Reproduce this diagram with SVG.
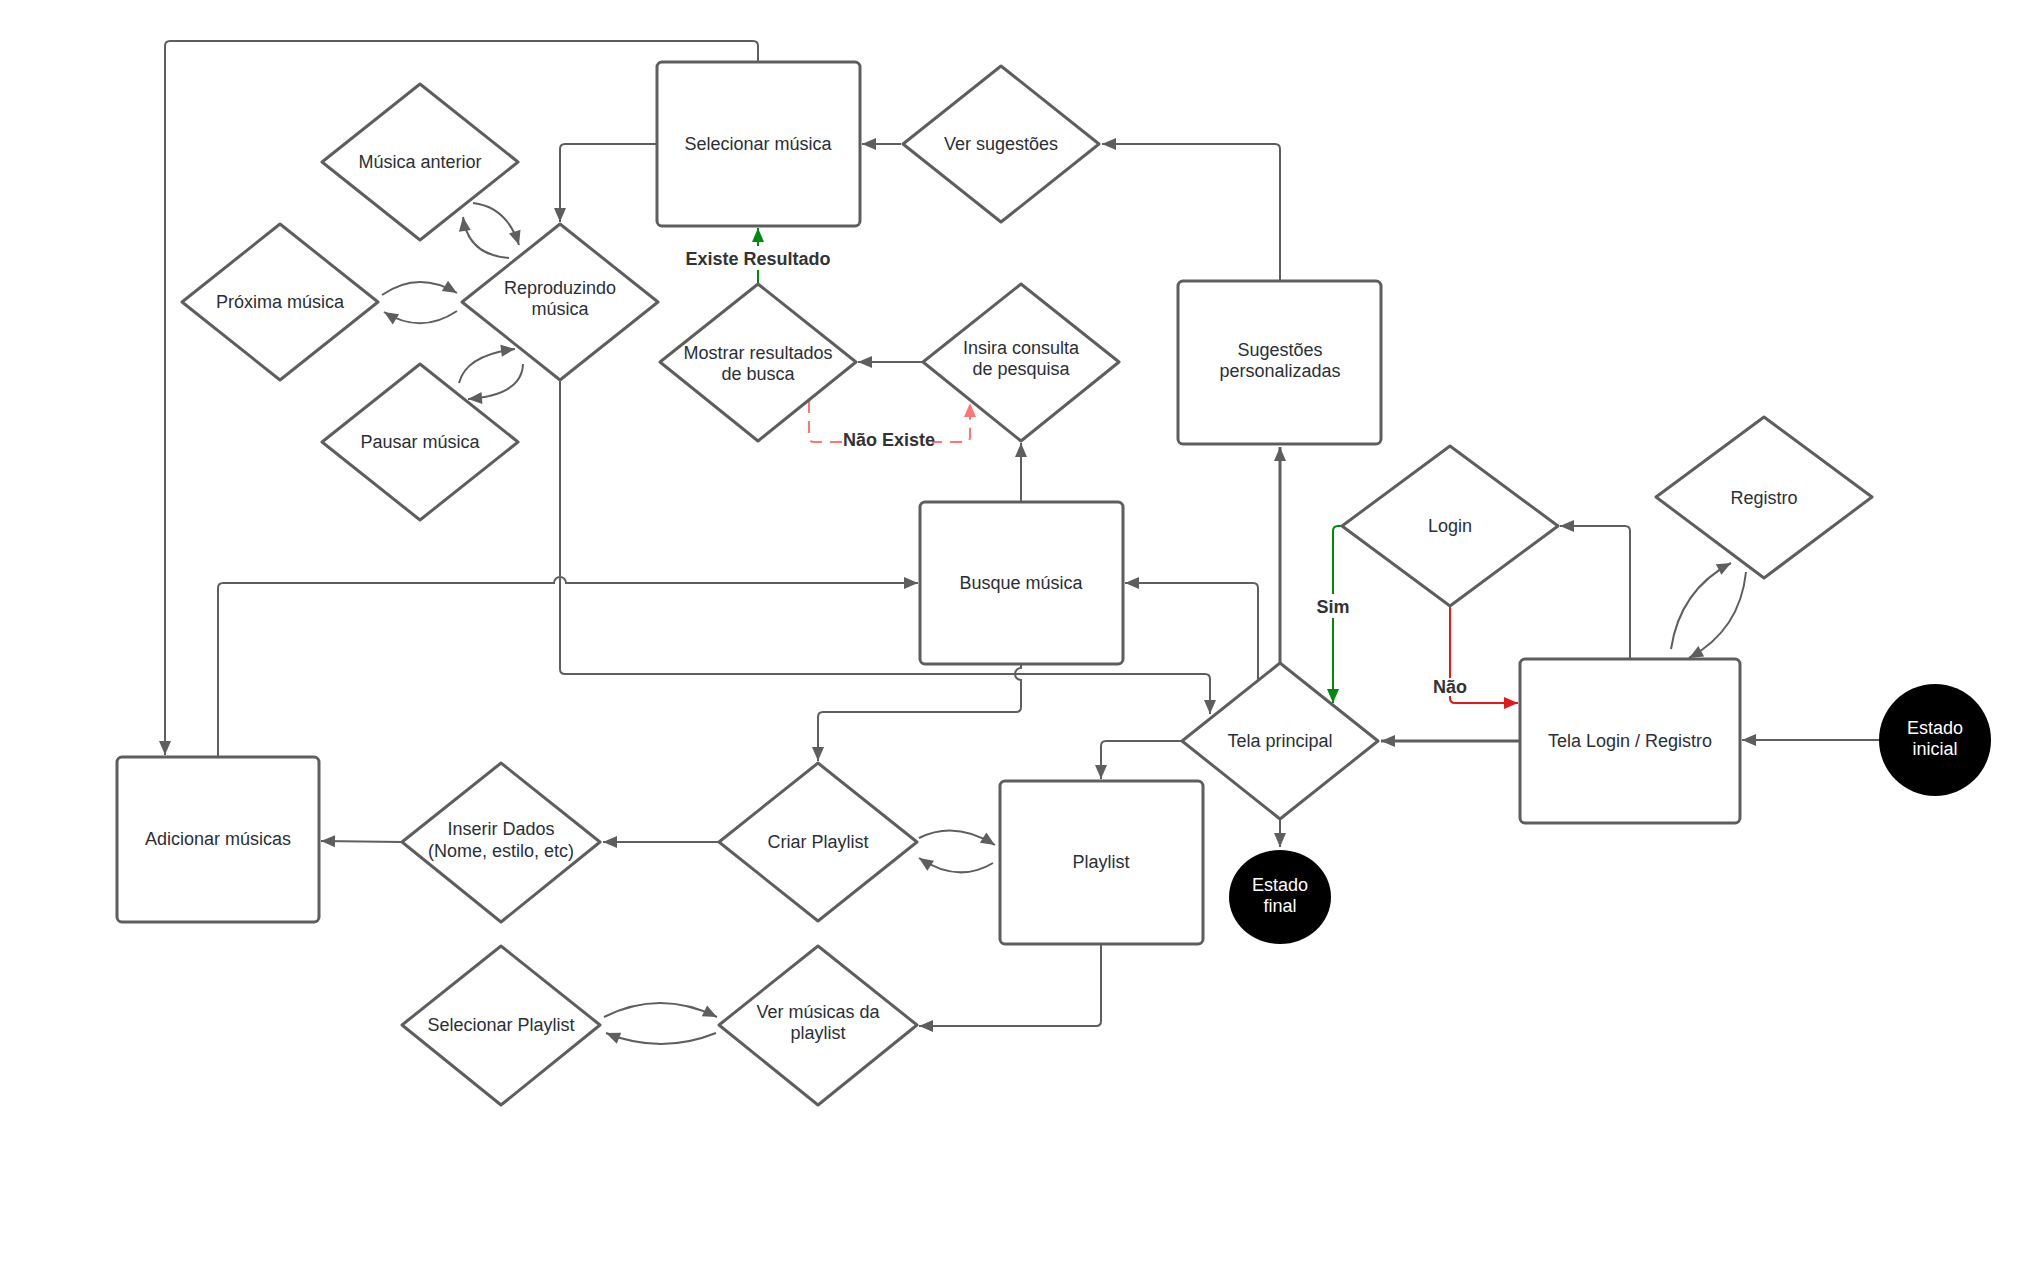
<svg xmlns="http://www.w3.org/2000/svg" width="2031" height="1261" viewBox="0 0 2031 1261">
<style>
.n{fill:#fff;stroke:#5e5e5e;stroke-width:3;stroke-linejoin:round}
.t{font-family:"Liberation Sans",Arial,sans-serif;font-size:18px;fill:#2b2f36;text-anchor:middle}
.w{fill:#fff}
.b{font-weight:bold;fill:#333}
.e{fill:#000;stroke:none}
.c{fill:none;stroke:#5e5e5e;stroke-width:2;marker-end:url(#ah)}
.c3{stroke-width:3}
.g{fill:none;stroke:#00890e;stroke-width:2;marker-end:url(#ag)}
.r{fill:none;stroke:#e21a1a;stroke-width:2;marker-end:url(#ar)}
.d{fill:none;stroke:#ff7575;stroke-width:2;stroke-dasharray:12 8;marker-end:url(#ad)}
</style>
<defs>
<marker id="ah" markerWidth="16" markerHeight="14" refX="15" refY="7" orient="auto" markerUnits="userSpaceOnUse"><path d="M1,1 L15,7 L1,13 z" fill="#5e5e5e"/></marker>
<marker id="ag" markerWidth="16" markerHeight="14" refX="15" refY="7" orient="auto" markerUnits="userSpaceOnUse"><path d="M1,1 L15,7 L1,13 z" fill="#00890e"/></marker>
<marker id="ar" markerWidth="16" markerHeight="14" refX="15" refY="7" orient="auto" markerUnits="userSpaceOnUse"><path d="M1,1 L15,7 L1,13 z" fill="#e21a1a"/></marker>
<marker id="ad" markerWidth="16" markerHeight="14" refX="15" refY="7" orient="auto" markerUnits="userSpaceOnUse"><path d="M1,1 L15,7 L1,13 z" fill="#ff7575"/></marker>
</defs>
<rect width="2031" height="1261" fill="#fff"/>

<g id="connectors">
<path class="c" d="M1879,740 L1742,740"/>
<path class="c c3" d="M1520,741 L1381,741"/>
<path class="c" d="M1630,659 L1630,531 Q1630,526 1625,526 L1560,526"/>
<path class="c" d="M1671,649 Q1680,590 1731,563"/>
<path class="c" d="M1746,572 Q1740,630 1689,658"/>
<path class="g" d="M1342,526 L1338,526 Q1333,526 1333,531 L1333,703"/>
<path class="r" d="M1450,606 L1450,698 Q1450,703 1455,703 L1518,703"/>
<path class="c c3" d="M1280,663 L1280,447"/>
<path class="c" d="M1280,281 L1280,149 Q1280,144 1275,144 L1102,144"/>
<path class="c" d="M901,144 L862,144"/>
<path class="c" d="M657,144 L565,144 Q560,144 560,149 L560,222"/>
<path class="c" d="M758,62 L758,46 Q758,41 753,41 L170,41 Q165,41 165,46 L165,755"/>
<path class="g" d="M758,284 L758,228"/>
<path class="c" d="M923,362 L858,362"/>
<path class="d" d="M809,401 L809,437 Q809,442 814,442 L965,442 Q970,442 970,437 L970,403"/>
<path class="c" d="M1021,502 L1021,443"/>
<path class="c" d="M1258,680 L1258,588 Q1258,583 1253,583 L1125,583"/>
<path class="c" d="M218,757 L218,588 Q218,583 223,583 L554,583 A6,6 0 0 1 566,583 L918,583"/>
<path class="c" d="M560,381 L560,669 Q560,674 565,674 L1205,674 Q1210,674 1210,679 L1210,714"/>
<path class="c" d="M1021,664 L1021,668 A6,6 0 0 0 1021,680 L1021,707 Q1021,712 1016,712 L823,712 Q818,712 818,717 L818,761"/>
<path class="c" d="M1181,741 L1106,741 Q1101,741 1101,746 L1101,779"/>
<path class="c" d="M1280,819 L1280,847"/>
<path class="c" d="M919,838 Q955,820 995,845"/>
<path class="c" d="M993,863 Q958,884 919,858"/>
<path class="c" d="M719,842 L603,842"/>
<path class="c" d="M402,842 L321,841"/>
<path class="c" d="M1101,944 L1101,1021 Q1101,1026 1096,1026 L919,1026"/>
<path class="c" d="M604,1017 Q660,989 717,1017"/>
<path class="c" d="M716,1033 Q661,1055 606,1033"/>
<path class="c" d="M473,203 Q507,207 519,245"/>
<path class="c" d="M509,258 Q468,255 463,217"/>
<path class="c" d="M382,295 Q418,270 457,293"/>
<path class="c" d="M457,311 Q421,335 384,312"/>
<path class="c" d="M459,383 Q466,355 515,349"/>
<path class="c" d="M523,364 Q522,395 468,399"/>
<rect class="w" x="1316" y="594" width="34" height="24"/>
<text class="t b" x="1333" y="613">Sim</text>
<rect class="w" x="1430" y="678" width="40" height="18"/>
<text class="t b" x="1450" y="693">Não</text>
<rect class="w" x="684" y="246" width="148" height="24"/>
<text class="t b" x="758" y="265">Existe Resultado</text>
<rect class="w" x="846" y="428" width="86" height="24"/>
<text class="t b" x="889" y="446">Não Existe</text>
</g>

<g id="selecionar-musica"><rect class="n" x="657" y="62" width="203" height="164" rx="5"/><text class="t" x="758" y="150">Selecionar música</text></g>
<g id="ver-sugestoes"><path class="n" d="M1001,66 L1099,144 L1001,222 L903,144 Z"/><text class="t" x="1001" y="150">Ver sugestões</text></g>
<g id="musica-anterior"><path class="n" d="M420,84 L518,162 L420,240 L322,162 Z"/><text class="t" x="420" y="168">Música anterior</text></g>
<g id="reproduzindo"><path class="n" d="M560,224 L658,302 L560,380 L462,302 Z"/><text class="t" x="560" y="294">Reproduzindo</text><text class="t" x="560" y="315">música</text></g>
<g id="proxima-musica"><path class="n" d="M280,224 L378,302 L280,380 L182,302 Z"/><text class="t" x="280" y="308">Próxima música</text></g>
<g id="pausar-musica"><path class="n" d="M420,364 L518,442 L420,520 L322,442 Z"/><text class="t" x="420" y="448">Pausar música</text></g>
<g id="mostrar-resultados"><path class="n" d="M758,284 L856,362 L758,441 L660,362 Z"/><text class="t" x="758" y="359">Mostrar resultados</text><text class="t" x="758" y="380">de busca</text></g>
<g id="insira-consulta"><path class="n" d="M1021,284 L1119,362 L1021,441 L923,362 Z"/><text class="t" x="1021" y="354">Insira consulta</text><text class="t" x="1021" y="375">de pesquisa</text></g>
<g id="sugestoes-personalizadas"><rect class="n" x="1178" y="281" width="203" height="163" rx="5"/><text class="t" x="1280" y="356">Sugestões</text><text class="t" x="1280" y="377">personalizadas</text></g>
<g id="busque-musica"><rect class="n" x="920" y="502" width="203" height="162" rx="5"/><text class="t" x="1021" y="589">Busque música</text></g>
<g id="tela-principal"><path class="n" d="M1280,663 L1378,741 L1280,819 L1182,741 Z"/><text class="t" x="1280" y="747">Tela principal</text></g>
<g id="login"><path class="n" d="M1450,446 L1558,526 L1450,606 L1342,526 Z"/><text class="t" x="1450" y="532">Login</text></g>
<g id="registro"><path class="n" d="M1764,417 L1872,497 L1764,578 L1656,497 Z"/><text class="t" x="1764" y="504">Registro</text></g>
<g id="tela-login-registro"><rect class="n" x="1520" y="659" width="220" height="164" rx="5"/><text class="t" x="1630" y="747">Tela Login / Registro</text></g>
<g id="estado-inicial"><ellipse class="e" cx="1935" cy="740" rx="56" ry="56"/><text class="t" x="1935" y="734" fill="#fff" style="fill:#fff">Estado</text><text class="t" x="1935" y="755" style="fill:#fff">inicial</text></g>
<g id="estado-final"><ellipse class="e" cx="1280" cy="897" rx="51" ry="47"/><text class="t" x="1280" y="891" style="fill:#fff">Estado</text><text class="t" x="1280" y="912" style="fill:#fff">final</text></g>
<g id="playlist"><rect class="n" x="1000" y="781" width="203" height="163" rx="5"/><text class="t" x="1101" y="868">Playlist</text></g>
<g id="criar-playlist"><path class="n" d="M818,763 L917,842 L818,921 L719,842 Z"/><text class="t" x="818" y="848">Criar Playlist</text></g>
<g id="inserir-dados"><path class="n" d="M501,763 L600,842 L501,922 L402,842 Z"/><text class="t" x="501" y="835">Inserir Dados</text><text class="t" x="501" y="857">(Nome, estilo, etc)</text></g>
<g id="adicionar-musicas"><rect class="n" x="117" y="757" width="202" height="165" rx="5"/><text class="t" x="218" y="845">Adicionar músicas</text></g>
<g id="selecionar-playlist"><path class="n" d="M501,946 L600,1025 L501,1105 L402,1025 Z"/><text class="t" x="501" y="1031">Selecionar Playlist</text></g>
<g id="ver-musicas-playlist"><path class="n" d="M818,946 L917,1025 L818,1105 L719,1025 Z"/><text class="t" x="818" y="1018">Ver músicas da</text><text class="t" x="818" y="1039">playlist</text></g>
</svg>
